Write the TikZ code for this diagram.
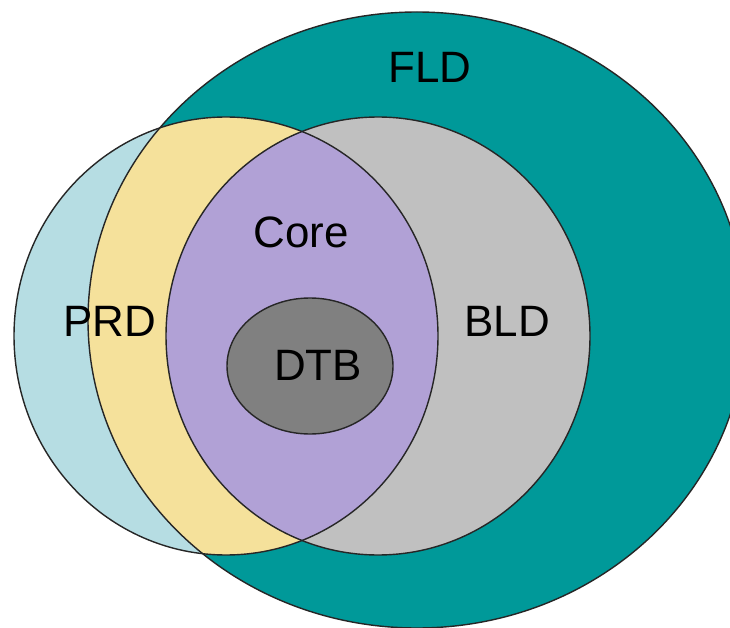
\documentclass[tikz,border=0pt]{standalone}
\usepackage{fontspec}
\setmainfont{Liberation Sans}
\usepackage{xcolor}
\usepackage{tikz}
\definecolor{fldteal}{RGB}{0,153,153}
\definecolor{prdblue}{RGB}{182,221,227}
\definecolor{prdyellow}{RGB}{245,225,155}
\definecolor{corepurple}{RGB}{177,161,214}
\definecolor{bldgrey}{RGB}{192,192,192}
\definecolor{dtbgrey}{RGB}{128,128,128}
\begin{document}
\begin{tikzpicture}[x=0.02cm,y=-0.02cm]
		\tikzstyle{every node}+=[inner sep=0pt,font=\fontsize{25}{30}\selectfont]
		\tikzstyle{rim}=[draw=black!85,line width=0.8pt]
		\useasboundingbox (0,0) rectangle (730,628);
		\clip (0,0) rectangle (730,628);
		\coordinate (fldc) at (417,320);
		\coordinate (prdc) at (226,336);
		\coordinate (bldc) at (378,336);
		\coordinate (dtbc) at (310,366);
		\fill[fldteal] (fldc) ellipse [x radius=329,y radius=308];
		\fill[prdblue] (prdc) ellipse [x radius=212,y radius=219];
		\begin{scope}
		\clip (prdc) ellipse [x radius=212,y radius=219];
		\fill[prdyellow] (fldc) ellipse [x radius=329,y radius=308];
		\end{scope}
		\fill[bldgrey] (bldc) ellipse [x radius=212,y radius=219];
		\begin{scope}
		\clip (prdc) ellipse [x radius=212,y radius=219];
		\fill[corepurple] (bldc) ellipse [x radius=212,y radius=219];
		\end{scope}
		\draw[rim] (fldc) ellipse [x radius=329,y radius=308];
		\draw[rim] (prdc) ellipse [x radius=212,y radius=219];
		\draw[rim] (bldc) ellipse [x radius=212,y radius=219];
		\draw[rim,fill=dtbgrey] (dtbc) ellipse [x radius=83,y radius=68];
		\node (fld) at (430,67) {FLD};
		\node (core) at (301,232) {Core};
		\node (prd) at (110,321) {PRD};
		\node (bld) at (507,321) {BLD};
		\node (dtb) at (318,365) {DTB};
		\end{tikzpicture}
\end{document}
